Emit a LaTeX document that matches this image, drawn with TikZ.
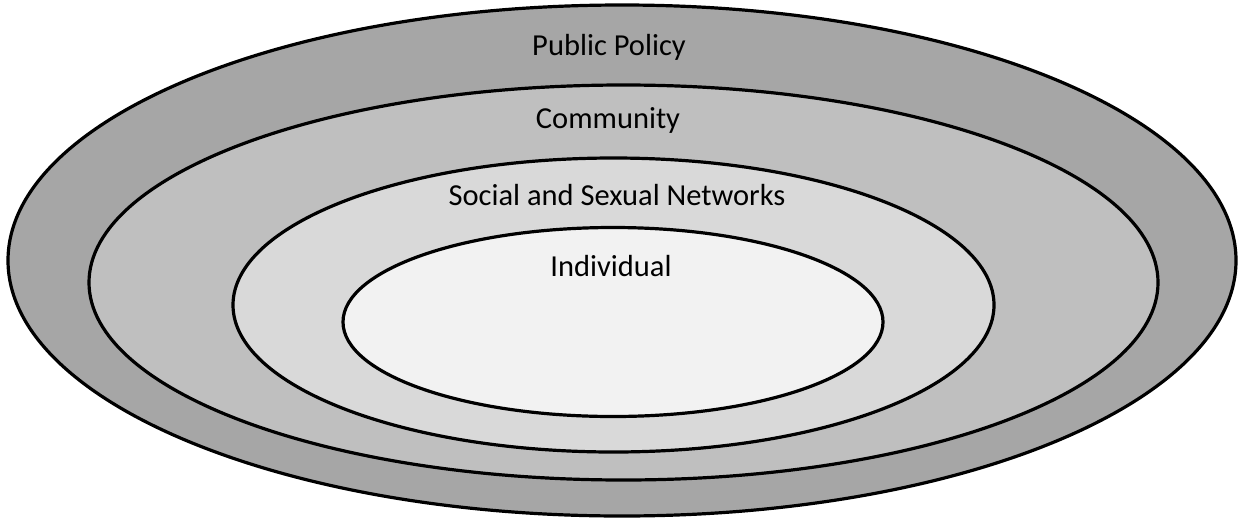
\documentclass[tikz,border=0pt]{standalone}
\usepackage{fontspec}
\setmainfont{Carlito}
\usetikzlibrary{shapes.geometric}
\definecolor{ringA}{HTML}{A6A6A6}
\definecolor{ringB}{HTML}{BFBFBF}
\definecolor{ringC}{HTML}{D9D9D9}
\definecolor{ringD}{HTML}{F2F2F2}

\begin{document}
\begin{tikzpicture}[
  x=1pt,y=-1pt,
  ring/.style={ellipse,draw=black,line width=3.2pt,inner sep=0pt,outer sep=0pt},
  label/.style={anchor=base,font=\fontsize{30.5}{34}\selectfont,inner sep=0pt}
]
\useasboundingbox (0,0) rectangle (1239,520);
% nested levels, outermost first
\node[ring,fill=ringA,minimum width=1228pt,minimum height=511pt] (policy) at (622,260.5) {};
\node[ring,fill=ringB,minimum width=1069pt,minimum height=395pt] (community) at (623.5,282.5) {};
\node[ring,fill=ringC,minimum width=761pt,minimum height=294pt] (network) at (613.5,305) {};
\node[ring,fill=ringD,minimum width=540pt,minimum height=189pt] (individual) at (613,322) {};
% level names
\node[label] (policytxt) at (609,55) {Public Policy};
\node[label] (communitytxt) at (608,128) {Community};
\node[label] (networktxt) at (617,205) {Social and Sexual Networks};
\node[label] (individualtxt) at (611,276) {Individual};
\end{tikzpicture}
\end{document}
